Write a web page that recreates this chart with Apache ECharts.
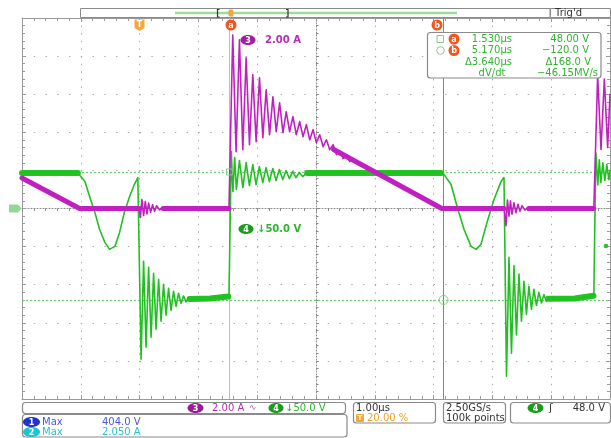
<!DOCTYPE html>
<html><head><meta charset="utf-8">
<script src="https://cdn.jsdelivr.net/npm/echarts@6/dist/echarts.min.js"></script>
<style>html,body{margin:0;padding:0;background:#fff}#c{width:611px;height:438px}</style>
</head><body><div id="c"></div>
<script>
// ---- scope settings ----
const timeRange = [-2, 8];      // µs, 1.00 µs/div, trigger at 20 %
const ch4Range = [-250, 250];   // V, 50.0 V/div
const ch3Range = [-10, 10];     // A, 2.00 A/div
const cursorTimes = [1.53, 5.17];   // µs (cursor a, b)
const cursorVolts = [48, -120];     // V  (cursor a, b)

// ---- channel 4 (green, V): [time µs, volts] ----
const ch4Trace = [
 [-2.00,46.5],[-1.05,46.5],[-1.02,45.0],[-0.93,35.3],[-0.85,15.7],[-0.76,-5.2],[-0.68,-27.5],[-0.59,-44.5],[-0.51,-53.7],[-0.42,-49.7],[-0.34,-31.4],[-0.26,-5.2],[-0.17,15.7],[-0.09,31.4],[-0.03,40.6],[0.00,42.0],
 [0.025,-197.7],[0.068,-69.4],[0.110,-182.0],[0.153,-77.2],[0.195,-168.9],[0.238,-85.1],[0.280,-158.4],[0.323,-92.9],[0.365,-147.9],[0.407,-99.5],[0.450,-140.1],[0.492,-104.7],[0.535,-133.8],[0.577,-108.6],[0.620,-128.3],[0.662,-111.2],[0.705,-124.4],[0.747,-114.7],[0.789,-122.5],[0.832,-117.3],[0.90,-119.0],[1.20,-118.0],[1.52,-115.0],
 [1.559,74.6],[1.587,22.3],[1.617,66.8],[1.646,24.9],[1.698,62.8],[1.756,27.5],[1.812,60.2],[1.868,30.1],[1.925,57.6],[1.981,31.4],[2.037,55.0],[2.095,34.0],[2.151,53.7],[2.207,35.3],[2.265,52.4],[2.321,36.7],[2.377,51.1],[2.435,38.0],[2.491,49.7],[2.547,39.3],[2.605,48.4],[2.660,40.6],[2.716,47.1],[2.774,41.9],[2.830,45.8],[2.886,43.2],[3.00,46.5],[5.12,46.5],
 [5.178,44.5],[5.297,31.4],[5.399,2.6],[5.518,-27.5],[5.637,-49.7],[5.722,-53.7],[5.806,-47.1],[5.908,-18.3],[6.027,11.8],[6.146,35.3],[6.197,40.6],[6.21,41.0],
 [6.240,-220.0],[6.282,-64.0],[6.324,-190.0],[6.367,-75.0],[6.409,-166.0],[6.452,-86.0],[6.494,-148.0],[6.537,-95.5],[6.579,-139.0],[6.621,-102.0],[6.664,-132.0],[6.706,-106.0],[6.749,-127.0],[6.791,-110.0],[6.834,-124.0],[6.876,-113.0],[6.919,-122.0],[6.961,-117.0],[7.10,-119.0],[7.40,-118.0],[7.725,-114.0],
 [7.759,73.0],[7.793,31.0],[7.818,64.0],[7.844,34.0],[7.878,60.0],[7.912,36.7],[7.946,57.6],[7.980,38.0],[8.00,50.0]
];
// settled (noisy, thick) parts of channel 4
const ch4Settled = [
 [[-2.00,46.5],[-1.05,46.5]],
 [[0.85,-118.8],[1.20,-118.0],[1.51,-115.5]],
 [[2.85,46.5],[5.13,46.5]],
 [[6.95,-118.5],[7.40,-118.0],[7.72,-114.5]]
];

// ---- channel 3 (magenta, A): [time µs, amps] ----
const ch3Trace = [
 [-2.00,1.60],[-1.02,0.00],[-0.01,0.00],[0.014,-0.47],[0.039,0.47],[0.068,-0.37],[0.097,0.37],[0.126,-0.28],[0.153,0.28],[0.187,-0.20],[0.221,0.20],[0.255,-0.15],[0.289,0.15],[0.34,-0.08],[0.39,0.06],[0.44,0.00],[1.52,0.00],
 [1.584,9.11],[1.641,2.98],[1.698,8.85],[1.755,3.09],[1.812,7.91],[1.869,3.35],[1.925,7.02],[1.982,3.51],[2.039,6.86],[2.096,3.72],[2.153,6.23],[2.210,3.87],[2.267,5.86],[2.324,4.03],[2.381,5.55],[2.438,3.98],[2.494,5.08],[2.551,4.03],[2.608,4.82],[2.665,3.87],[2.722,4.56],[2.779,3.77],[2.836,4.40],[2.893,3.61],[2.950,4.14],[3.006,3.46],[3.063,3.87],[3.120,3.25],[3.177,3.61],[3.234,3.09],[3.291,3.35],[3.348,2.83],[3.405,3.04],[3.462,2.62],[3.519,2.78],[3.576,2.46],[3.62,2.60],[5.14,0.00],
 [6.20,0.00],[6.231,-0.90],[6.256,0.45],[6.282,-0.40],[6.307,0.40],[6.333,-0.30],[6.367,0.30],[6.401,-0.22],[6.435,0.22],[6.469,-0.15],[6.503,0.15],[6.554,-0.08],[6.605,0.05],[6.65,0.00],[7.725,0.00],
 [7.79,7.00],[7.847,3.10],[7.904,6.80],[7.960,3.20],[8.00,6.00]
];
const ch3Settled = [
 [[-2.00,1.60],[-1.02,0.00],[0.00,0.00]],
 [[0.40,0.00],[1.52,0.00]],
 [[3.30,3.10],[5.14,0.00],[6.20,0.00]],
 [[6.62,0.00],[7.72,0.00]]
];

const GREEN = '#22bf22', GREEN_BAND = '#22c422', MAG = '#c21fc2', MAG_BAND = '#c020c0';
const FONT = '"DejaVu Sans", sans-serif';

const chart = echarts.init(document.getElementById('c'), null, {renderer:'canvas'});

const grid = {left:22, top:18, width:588, height:381};
const borderLine = {show:true, onZero:false, lineStyle:{color:'#9a9a9a', width:1}};
const tickIn = {show:true, inside:true, length:4, lineStyle:{color:'#9a9a9a'}};
const minorIn = {show:true, splitNumber:5, length:3, lineStyle:{color:'#9a9a9a'}};
const centerLine = {show:true, onZero:false, lineStyle:{color:'#8a8a8a', width:1, type:[1,2]}};

function lineSeries(data, yIdx, color, width, z, extra) {
  return Object.assign({type:'line', data, xAxisIndex:0, yAxisIndex:yIdx, showSymbol:false, symbol:'none',
    silent:true, animation:false, z, lineStyle:{color, width, join:'round', cap:'round'}}, extra || {});
}

const series = [];
// cursors (drawn beneath the traces)
series.push({type:'line', data:[], xAxisIndex:0, yAxisIndex:0, z:1, silent:true, animation:false,
  markLine:{z:1, silent:true, symbol:'none', label:{show:false}, animation:false,
    data:[
      {xAxis:cursorTimes[0], lineStyle:{color:'#98d898', width:1, type:'solid'}},
      {xAxis:cursorTimes[1], lineStyle:{color:'#2fbf2f', width:1, type:'solid'}},
      {yAxis:cursorVolts[0], lineStyle:{color:'#6fd06f', width:1.3, type:[2,2]}},
      {yAxis:cursorVolts[1], lineStyle:{color:'#6fd06f', width:1.3, type:[2,2]}}
    ]},
  markPoint:{z:6, silent:true, animation:false, label:{show:false},
    data:[
      {coord:[cursorTimes[0], cursorVolts[0]], symbol:'rect', symbolSize:6, itemStyle:{color:'rgba(0,0,0,0)', borderColor:'#7fd07f', borderWidth:1}},
      {coord:[cursorTimes[1], cursorVolts[1]], symbol:'circle', symbolSize:9, itemStyle:{color:'rgba(0,0,0,0)', borderColor:'#7fd07f', borderWidth:1}}
    ]}
});
ch4Settled.forEach(s => series.push(lineSeries(s, 0, GREEN_BAND, 6, 3)));
series.push(lineSeries(ch4Trace, 0, GREEN, 1.6, 3));
ch3Settled.forEach(s => series.push(lineSeries(s, 1, MAG_BAND, 5, 4)));
series.push(lineSeries(ch3Trace, 1, MAG, 1.6, 4));

function badge(cx, cy, rx, fill, label) {
  return [
    {type:'ellipse', shape:{cx, cy, rx, ry:5}, style:{fill}, z:100},
    {type:'text', style:{x:cx, y:cy+0.5, text:label, fill:'#fff', font:'bold 8px '+FONT, align:'center', verticalAlign:'middle'}, z:101}
  ];
}
function txt(x, y, text, fill, align, size, weight) {
  return {type:'text', style:{x, y, text, fill, font:(weight||'normal')+' '+(size||10)+'px '+FONT, align:align||'left', verticalAlign:'middle'}, z:101};
}
function box(x, y, w, h) {
  return {type:'rect', shape:{x, y, width:w, height:h, r:3}, style:{fill:'#fff', stroke:'#8a8a8a', lineWidth:1.2}, z:99};
}
function orangeDot(cx, cy, label) {
  return [
    {type:'circle', shape:{cx, cy, r:5.5}, style:{fill:'#f0561e'}, z:100},
    {type:'text', style:{x:cx, y:cy+0.5, text:label, fill:'#fff', font:'bold 8px '+FONT, align:'center', verticalAlign:'middle'}, z:101}
  ];
}

const MEAS = '#2fb52f';
const graphic = [].concat(
  // record view bar
  [{type:'rect', shape:{x:80.5, y:8.5, width:469.5, height:9}, style:{fill:'#fff', stroke:'#8a8a8a', lineWidth:1}, z:99},
   {type:'line', shape:{x1:175, y1:13, x2:457, y2:13}, style:{stroke:'#9ddc9d', lineWidth:2.5}, z:100},
   {type:'polyline', shape:{points:[[219.5,9.5],[217.5,9.5],[217.5,17],[219.5,17]]}, style:{stroke:'#333', lineWidth:1.2, fill:null}, z:101},
   {type:'polyline', shape:{points:[[286,9.5],[288,9.5],[288,17],[286,17]]}, style:{stroke:'#333', lineWidth:1.2, fill:null}, z:101},
   {type:'rect', shape:{x:228.5, y:9.5, width:5, height:7, r:1.5}, style:{fill:'#f3a93a'}, z:101},
   {type:'rect', shape:{x:550.5, y:8.5, width:60, height:9}, style:{fill:'#fff', stroke:'#8a8a8a', lineWidth:1}, z:99},
   txt(555, 13.5, "Trig'd", '#333', 'left', 10)],
  // trigger marker T
  [{type:'polygon', shape:{points:[[134.5,19.5],[144.5,19.5],[144.5,28],[139.5,31],[134.5,28]]}, style:{fill:'#f3a93a'}, z:100},
   {type:'text', style:{x:139.5, y:25, text:'T', fill:'#fff', font:'bold 8px '+FONT, align:'center', verticalAlign:'middle'}, z:101}],
  orangeDot(231, 25, 'a'), orangeDot(437, 25, 'b'),
  // cursor readout box
  [box(427.5, 32.5, 173.5, 45.5),
   {type:'rect', shape:{x:437, y:35.5, width:6.5, height:7}, style:{fill:null, stroke:'#7fcf7f', lineWidth:1}, z:101},
   {type:'circle', shape:{cx:440.5, cy:50.5, r:3.8}, style:{fill:null, stroke:'#7fcf7f', lineWidth:1}, z:101}],
  orangeDot(454, 39, 'a'), orangeDot(454, 50.5, 'b'),
  [txt(512, 39, '1.530µs', MEAS, 'right'), txt(589, 39, '48.00 V', MEAS, 'right'),
   txt(512, 50.5, '5.170µs', MEAS, 'right'), txt(589, 50.5, '\u2212120.0 V', MEAS, 'right'),
   txt(512, 62, '\u03943.640µs', MEAS, 'right'), txt(591, 62, '\u0394168.0 V', MEAS, 'right'),
   txt(492, 73, 'dV/dt', MEAS, 'center'), txt(598, 73, '\u221246.15MV/s', MEAS, 'right')],
  // on-screen channel labels
  badge(248, 40, 7.5, '#a01ea0', '3'), [txt(265, 40, '2.00 A', '#b52db5', 'left', 10, 'bold')],
  badge(246, 229, 7.5, '#1c9c1c', '4'), [txt(257, 229, '\u219350.0 V', '#2db52d', 'left', 10, 'bold')],
  // ch4 ground marker
  [{type:'polygon', shape:{points:[[9,204.5],[18,204.5],[21.5,208.5],[18,212.5],[9,212.5]]}, style:{fill:'#92d892'}, z:100},
   {type:'circle', shape:{cx:606, cy:246, r:2.3}, style:{fill:'#2fbf2f'}, z:100}],
  // bottom status boxes
  [box(22.5, 402.5, 323, 11), box(22.5, 414.5, 324.5, 22.5),
   box(353.5, 402.5, 82, 20.5), box(443.5, 402.5, 62, 20.5), box(510.5, 402.5, 100, 20.5)],
  badge(195.5, 408, 8, '#9a1a9a', '3'), [txt(212, 408, '2.00 A', '#b52db5', 'left', 10), txt(249, 408, '\u223F', '#b070b0', 'left', 9)],
  badge(276, 408, 7.5, '#1c9c1c', '4'), [txt(285, 408, '\u219350.0 V', '#2db52d', 'left', 10)],
  badge(31.5, 422, 8.5, '#2233cc', '1'), [txt(42, 422, 'Max', '#4a55e0', 'left', 10), txt(102, 422, '404.0 V', '#4a55e0', 'left', 10)],
  badge(31.5, 432, 8.5, '#18c6d6', '2'), [txt(42, 432, 'Max', '#22c4d4', 'left', 10), txt(102, 432, '2.050 A', '#22c4d4', 'left', 10)],
  [txt(356, 408, '1.00µs', '#333', 'left', 10),
   {type:'rect', shape:{x:356, y:414, width:8, height:8, r:1}, style:{fill:'#f3a93a'}, z:100},
   {type:'text', style:{x:360, y:418.5, text:'T', fill:'#fff', font:'bold 7px '+FONT, align:'center', verticalAlign:'middle'}, z:101},
   txt(367, 418.5, '20.00 %', '#f0a020', 'left', 10),
   txt(446, 408, '2.50GS/s', '#333', 'left', 10), txt(446, 418.5, '100k points', '#333', 'left', 10)],
  badge(535.5, 408, 8, '#1c9c1c', '4'), [txt(549, 408, '\u0283', '#333', 'left', 11), txt(605, 408, '48.0 V', '#333', 'right', 10)]
);

const option = {
  animation:false,
  backgroundColor:'#fff',
  grid,
  xAxis:[
    {type:'value', min:timeRange[0], max:timeRange[1], interval:1, position:'bottom',
     axisLine:borderLine, axisTick:tickIn, minorTick:minorIn, axisLabel:{show:false},
     splitLine:{show:true, lineStyle:{color:'#a8a8a8', width:1, type:[1.4,6.22]}}},
    {type:'value', min:timeRange[0], max:timeRange[1], interval:1, position:'top',
     axisLine:borderLine, axisTick:tickIn, minorTick:minorIn, axisLabel:{show:false}, splitLine:{show:false}},
    {type:'value', min:timeRange[0], max:timeRange[1], interval:1, position:'top', offset:-190.5,
     axisLine:centerLine, axisTick:{show:true, inside:true, length:3, lineStyle:{color:'#8a8a8a'}},
     minorTick:{show:true, splitNumber:5, length:2.5, lineStyle:{color:'#8a8a8a'}}, axisLabel:{show:false}, splitLine:{show:false}}
  ],
  yAxis:[
    {type:'value', min:ch4Range[0], max:ch4Range[1], interval:50, position:'left',
     axisLine:borderLine, axisTick:tickIn, minorTick:minorIn, axisLabel:{show:false},
     splitLine:{show:true, lineStyle:{color:'#a8a8a8', width:1, type:[1.4,10.36]}}},
    {type:'value', min:ch3Range[0], max:ch3Range[1], interval:2, position:'left',
     axisLine:{show:false, onZero:false}, axisTick:{show:false}, axisLabel:{show:false}, splitLine:{show:false}},
    {type:'value', min:ch4Range[0], max:ch4Range[1], interval:50, position:'right',
     axisLine:borderLine, axisTick:tickIn, minorTick:minorIn, axisLabel:{show:false}, splitLine:{show:false}},
    {type:'value', min:ch4Range[0], max:ch4Range[1], interval:50, position:'left', offset:-294,
     axisLine:centerLine, axisTick:{show:true, inside:true, length:3, lineStyle:{color:'#8a8a8a'}},
     minorTick:{show:true, splitNumber:5, length:2.5, lineStyle:{color:'#8a8a8a'}}, axisLabel:{show:false}, splitLine:{show:false}}
  ],
  series,
  graphic
};
chart.setOption(option);
</script>
</body></html>
